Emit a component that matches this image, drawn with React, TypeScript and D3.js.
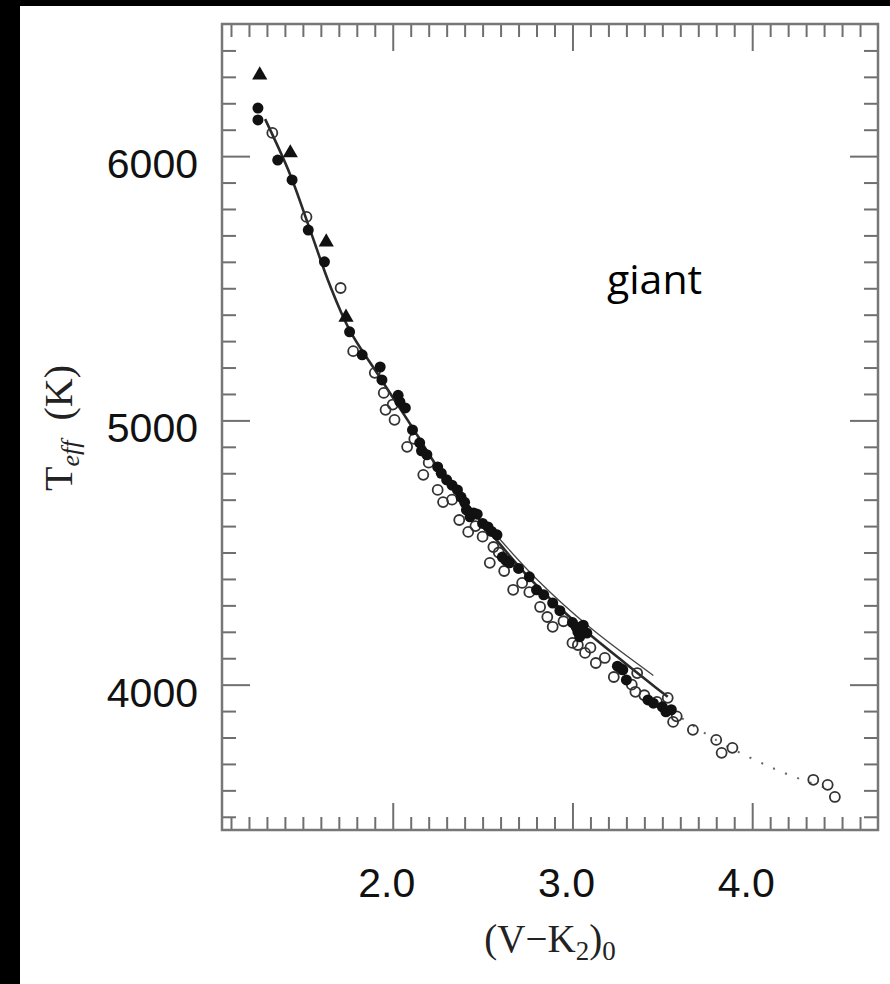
import { useEffect, useRef } from "react";
import * as d3 from "d3";

/* ── data: [(V-K2)0, Teff] ── */
const triangles: [number, number][] = [
  [1.26, 6307], [1.43, 6012], [1.63, 5675], [1.74, 5390],
];

const filledPts: [number, number][] = [
  [1.25, 6182], [1.25, 6137], [1.36, 5985], [1.44, 5910], [1.53, 5720],
  [1.62, 5600], [1.76, 5335], [1.83, 5248], [1.93, 5202], [1.94, 5153],
  [2.03, 5095], [2.04, 5070], [2.07, 5047], [2.11, 4964], [2.15, 4915],
  [2.16, 4885], [2.19, 4870], [2.25, 4824], [2.27, 4800], [2.30, 4775],
  [2.33, 4755], [2.36, 4737], [2.38, 4710], [2.40, 4690], [2.41, 4661],
  [2.43, 4635], [2.45, 4650], [2.47, 4645], [2.50, 4610], [2.53, 4597],
  [2.55, 4580], [2.58, 4567], [2.61, 4483], [2.63, 4470], [2.65, 4461],
  [2.70, 4440], [2.76, 4408], [2.80, 4359], [2.84, 4340], [2.89, 4309],
  [2.93, 4280], [3.00, 4235], [3.02, 4219], [3.03, 4200], [3.04, 4181],
  [3.06, 4225], [3.08, 4195], [3.25, 4070], [3.28, 4056], [3.30, 4018],
  [3.42, 3942], [3.45, 3930], [3.50, 3916], [3.52, 3897], [3.55, 3905],
];

const openPts: [number, number][] = [
  [1.33, 6088], [1.52, 5770], [1.71, 5501], [1.78, 5262], [1.90, 5180],
  [1.95, 5104], [1.96, 5040], [2.00, 5060], [2.01, 5002], [2.08, 4900],
  [2.12, 4930], [2.17, 4794], [2.20, 4840], [2.25, 4737], [2.28, 4691],
  [2.33, 4700], [2.37, 4623], [2.42, 4578], [2.46, 4600], [2.50, 4560],
  [2.54, 4461], [2.56, 4521], [2.59, 4500], [2.62, 4430], [2.67, 4359],
  [2.72, 4385], [2.76, 4350], [2.82, 4294], [2.86, 4256], [2.89, 4219],
  [2.95, 4240], [3.00, 4158], [3.03, 4150], [3.07, 4120], [3.10, 4140],
  [3.13, 4082], [3.18, 4101], [3.23, 4029], [3.27, 4060], [3.33, 4000],
  [3.35, 3973], [3.36, 4044], [3.40, 3960], [3.47, 3935], [3.53, 3950],
  [3.56, 3859], [3.58, 3880], [3.67, 3829], [3.80, 3791], [3.83, 3742],
  [3.89, 3761], [4.34, 3640], [4.42, 3621], [4.46, 3575],
];

const fitMain: [number, number][] = [
  [1.29, 6140], [1.43, 5929], [1.54, 5721], [1.65, 5512], [1.76, 5342],
  [1.93, 5161], [2.10, 4983], [2.26, 4812], [2.43, 4669], [2.60, 4529],
  [2.76, 4404], [2.93, 4290], [3.10, 4188], [3.27, 4094], [3.43, 4007],
  [3.53, 3954],
];

const fitAlt: [number, number][] = [
  [2.50, 4625], [2.80, 4400], [3.10, 4215], [3.45, 4035],
];

const fitDotted: [number, number][] = [
  [3.55, 3900], [3.80, 3790], [4.00, 3720], [4.20, 3660], [4.45, 3600],
];

const xMajor = [2.0, 3.0, 4.0];
const tMajor = [4000, 5000, 6000];

export default function App() {
  const svgRef = useRef<SVGSVGElement>(null);
  const W = 890, H = 984;
  const L = 222, R = 878, T = 24, B = 830;

  useEffect(() => {
    if (!svgRef.current) return;
    const svg = d3.select(svgRef.current);
    svg.selectAll("*").remove();

    const x = d3.scaleLinear().domain([1.05, 4.7]).range([L, R]);
    const y = d3.scaleLinear().domain([3450, 6500]).range([B, T]);

    svg.append("rect").attr("width", W).attr("height", H).attr("fill", "#fff");
    /* black scan borders */
    svg.append("rect").attr("width", W).attr("height", 6).attr("fill", "#000");
    svg.append("rect").attr("width", 20).attr("height", H).attr("fill", "#000");

    /* ── ticks (all inward) ── */
    const xMinor = d3.range(11, 47).map(d => d / 10).filter(d => !xMajor.includes(d));
    const tMinor = d3.range(35, 65).map(d => d * 100).filter(d => !tMajor.includes(d));
    const tickStyle = (a: any) => {
      a.select(".domain").remove();
      a.selectAll("line").attr("stroke", "#6f6f6f").attr("stroke-width", 2);
    };
    const mk = (axis: any, vals: number[], len: number, tr: string) =>
      svg.append("g").attr("transform", tr)
        .call(axis.tickValues(vals).tickSize(-len).tickFormat(() => ""))
        .call(tickStyle);

    mk(d3.axisBottom(x), xMinor, 13, `translate(0,${B})`);
    mk(d3.axisBottom(x), xMajor, 27, `translate(0,${B})`);
    mk(d3.axisTop(x), xMinor, 13, `translate(0,${T})`);
    mk(d3.axisTop(x), xMajor, 27, `translate(0,${T})`);
    mk(d3.axisLeft(y), tMinor, 14, `translate(${L},0)`);
    mk(d3.axisLeft(y), tMajor, 28, `translate(${L},0)`);
    mk(d3.axisRight(y), tMinor, 14, `translate(${R},0)`);
    mk(d3.axisRight(y), tMajor, 28, `translate(${R},0)`);

    /* frame */
    svg.append("rect")
      .attr("x", L).attr("y", T).attr("width", R - L).attr("height", B - T)
      .attr("fill", "none").attr("stroke", "#777").attr("stroke-width", 2.5);

    /* ── tick labels ── */
    const sans = "'Liberation Sans', Arial, Helvetica, sans-serif";
    svg.append("g").selectAll("text").data(xMajor).join("text")
      .attr("x", d => x(d) - 6).attr("y", 897)
      .attr("text-anchor", "middle").attr("font-family", sans).attr("font-size", 41)
      .attr("fill", "#111").text(d => d.toFixed(1));
    svg.append("g").selectAll("text").data(tMajor).join("text")
      .attr("x", 198).attr("y", d => y(d) + 22)
      .attr("text-anchor", "end").attr("font-family", sans).attr("font-size", 41)
      .attr("fill", "#111").text(d => String(d));

    /* ── axis titles ── */
    const serif = "'Liberation Serif', 'Times New Roman', serif";
    const xl = svg.append("text").attr("x", 550).attr("y", 952)
      .attr("text-anchor", "middle").attr("font-family", serif).attr("font-size", 39)
      .attr("fill", "#222");
    xl.append("tspan").text("(V\u2212K");
    xl.append("tspan").attr("font-size", 27).attr("dy", 8).text("2");
    xl.append("tspan").attr("dy", -8).text(")");
    xl.append("tspan").attr("font-size", 27).attr("dy", 8).text("0");

    const yl = svg.append("text")
      .attr("transform", `translate(72,428) rotate(-90)`)
      .attr("text-anchor", "middle").attr("font-family", serif).attr("font-size", 40)
      .attr("fill", "#222");
    yl.append("tspan").text("T");
    yl.append("tspan").attr("font-size", 26).attr("dy", 7).attr("font-style", "italic").text("eff");
    yl.append("tspan").attr("dy", -7).text("\u00a0\u00a0(K)");

    /* ── fit curves ── */
    const line = d3.line<[number, number]>()
      .x(d => x(d[0])).y(d => y(d[1])).curve(d3.curveCatmullRom);
    svg.append("path").attr("d", line(fitAlt) ?? "").attr("fill", "none")
      .attr("stroke", "#444").attr("stroke-width", 1.3);
    svg.append("path").attr("d", line(fitMain) ?? "").attr("fill", "none")
      .attr("stroke", "#2a2a2a").attr("stroke-width", 2.6);
    svg.append("path").attr("d", line(fitDotted) ?? "").attr("fill", "none")
      .attr("stroke", "#666").attr("stroke-width", 2).attr("stroke-dasharray", "2 11");

    /* ── points ── */
    svg.append("g").selectAll("circle").data(openPts).join("circle")
      .attr("cx", d => x(d[0])).attr("cy", d => y(d[1])).attr("r", 5)
      .attr("fill", "none").attr("stroke", "#333").attr("stroke-width", 1.8);
    svg.append("g").selectAll("circle").data(filledPts).join("circle")
      .attr("cx", d => x(d[0])).attr("cy", d => y(d[1])).attr("r", 5.5)
      .attr("fill", "#111");
    const tri = d3.symbol().type(d3.symbolTriangle).size(100);
    svg.append("g").selectAll("path").data(triangles).join("path")
      .attr("transform", d => `translate(${x(d[0])},${y(d[1])})`)
      .attr("d", tri() ?? "").attr("fill", "#111");

    /* annotation */
    svg.append("text").attr("x", 607).attr("y", 294)
      .attr("font-family", "'Open Sans', 'Noto Sans', sans-serif").attr("font-size", 41)
      .attr("fill", "#000").text("giant");
  }, []);

  return (
    <>
      <style>{`body{margin:0}`}</style>
      <svg ref={svgRef} width={W} height={H} viewBox={`0 0 ${W} ${H}`} style={{ display: "block" }} />
    </>
  );
}
